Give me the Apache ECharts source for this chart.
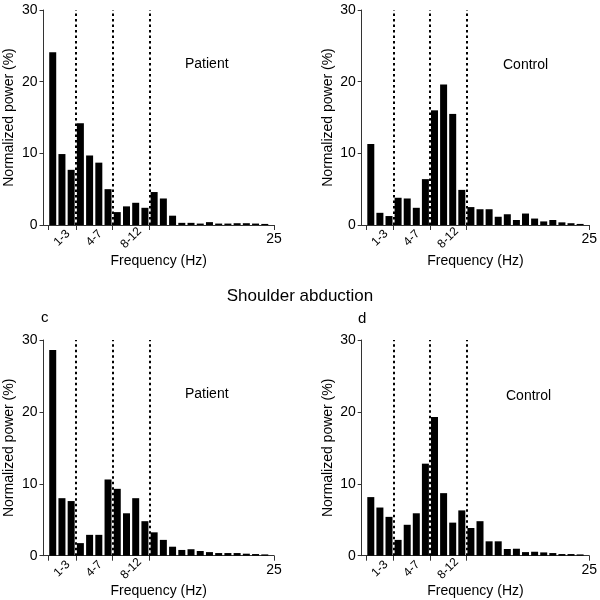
<!DOCTYPE html>
<html><head><meta charset="utf-8">
<script src="https://cdn.jsdelivr.net/npm/echarts@6/dist/echarts.min.js"></script>
<style>html,body{margin:0;padding:0;background:#fff}#c{width:600px;height:600px}</style>
</head><body><div id="c"></div>
<script>
// frequency bins (Hz)
const bins = [1,2,3,4,5,6,7,8,9,10,11,12,13,14,15,16,17,18,19,20,21,22,23,24];
// normalized power (%) per bin
const patientTop = [24.1,9.9,7.7,14.2,9.7,8.7,5.0,1.8,2.6,3.1,2.4,4.6,3.7,1.3,0.3,0.3,0.2,0.4,0.2,0.2,0.25,0.25,0.2,0.15];
const controlTop = [11.3,1.7,1.25,3.8,3.7,2.4,6.4,16.0,19.6,15.5,4.9,2.5,2.2,2.2,1.15,1.5,0.7,1.6,0.9,0.5,0.7,0.37,0.25,0.15];
const patientBottom = [28.6,8.0,7.6,1.75,2.9,2.9,10.6,9.3,5.9,8.0,4.8,3.25,2.2,1.25,0.8,0.9,0.65,0.5,0.37,0.37,0.37,0.28,0.23,0.18];
const controlBottom = [8.15,6.7,5.4,2.2,4.3,5.9,12.8,19.3,8.7,4.6,6.3,3.85,4.8,2.0,2.0,0.93,0.97,0.5,0.55,0.46,0.37,0.23,0.23,0.18];
// frequency bands
const bandLabels = ['1-3','4-7','8-12'];
const bandCenters = [2, 5.5, 9.5];
const bandEdges = [0.5, 3.5, 7.5, 11.5];
const bandDividers = [3.5, 7.5, 11.5];
const xMin = 0, xMax = 25;
const endLabel = [25];
const yMin = 0, yMax = 30, yStep = 10;

const FONT = "'Liberation Sans', Arial, sans-serif";
const panels = [
  {data: patientTop,    grid: {left: 43.5,  top: 10,  width: 230.5, height: 215}},
  {data: controlTop,    grid: {left: 361.7, top: 10,  width: 231,   height: 215}},
  {data: patientBottom, grid: {left: 43.5,  top: 340, width: 230.5, height: 215.7}},
  {data: controlBottom, grid: {left: 361.7, top: 340, width: 231,   height: 215.7}}
];
const axisCol = '#333';
const grid = [], xAxis = [], yAxis = [], series = [];
panels.forEach((p, i) => {
  grid.push(p.grid);
  xAxis.push({
    type: 'value', gridIndex: i, min: xMin, max: xMax, position: 'bottom',
    axisLine: {show: true, lineStyle: {color: axisCol, width: 1}},
    splitLine: {show: false},
    axisTick: {show: true, customValues: bandEdges.concat(endLabel), length: 5, lineStyle: {color: axisCol}},
    axisLabel: {customValues: bandCenters, rotate: 45, align: 'center', verticalAlign: 'middle', margin: 13,
      fontSize: 12, color: '#000', fontFamily: FONT,
      formatter: v => bandLabels[bandCenters.indexOf(v)]},
    name: 'Frequency (Hz)', nameLocation: 'middle', nameGap: 26,
    nameTextStyle: {fontSize: 14, color: '#000', fontFamily: FONT}
  });
  xAxis.push({
    type: 'value', gridIndex: i, min: xMin, max: xMax, position: 'bottom', offset: 0,
    axisLine: {show: false, onZero: false}, axisTick: {show: false}, splitLine: {show: false},
    axisLabel: {customValues: endLabel, fontSize: 14, margin: 7, color: '#000', fontFamily: FONT}
  });
  yAxis.push({
    type: 'value', gridIndex: i, min: yMin, max: yMax, interval: yStep,
    axisLine: {show: true, lineStyle: {color: axisCol, width: 1}},
    axisTick: {show: true, length: 4, lineStyle: {color: axisCol}},
    splitLine: {show: false},
    axisLabel: {fontSize: 14, margin: 6, color: '#000', fontFamily: FONT},
    name: 'Normalized power (%)', nameLocation: 'middle', nameGap: 27,
    nameTextStyle: {fontSize: 14, color: '#000', fontFamily: FONT}
  });
  series.push({
    type: 'bar', xAxisIndex: 2 * i, yAxisIndex: i,
    data: bins.map((b, j) => [b, p.data[j]]),
    barWidth: 7, itemStyle: {color: '#000'},
    markLine: {silent: true, symbol: ['none', 'none'], label: {show: false},
      lineStyle: {color: '#000', type: [2.5, 3], width: 2},
      data: bandDividers.map(v => ({xAxis: v}))}
  });
});
const ts = (size) => ({fontSize: size, fontWeight: 'normal', color: '#000', fontFamily: FONT});
const title = [
  {text: 'Patient', left: 185, top: 57, padding: 0, textStyle: ts(14)},
  {text: 'Control', left: 503, top: 58, padding: 0, textStyle: ts(14)},
  {text: 'Patient', left: 185, top: 387, padding: 0, textStyle: ts(14)},
  {text: 'Control', left: 506, top: 389, padding: 0, textStyle: ts(14)},
  {text: 'Shoulder abduction', left: 'center', top: 288, padding: 0, textStyle: ts(17)},
  {text: 'c', left: 41, top: 310, padding: 0, textStyle: ts(15)},
  {text: 'd', left: 358, top: 311, padding: 0, textStyle: ts(15)}
];
const chart = echarts.init(document.getElementById('c'), null, {renderer: 'canvas'});
chart.setOption({animation: false, backgroundColor: '#fff', title, grid, xAxis, yAxis, series});
</script></body></html>
